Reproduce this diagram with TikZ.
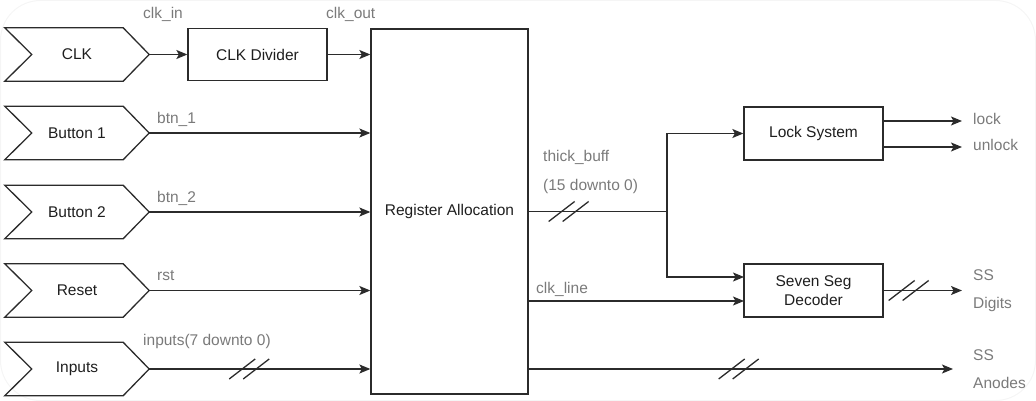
\documentclass[tikz,border=0pt]{standalone}
\usepackage{fontspec}
\setmainfont{Liberation Sans}
\usetikzlibrary{arrows.meta,calc}
\definecolor{linec}{HTML}{2B2B2B}
\definecolor{textc}{HTML}{1E1E1E}
\definecolor{lblc}{HTML}{7A7A7A}
\tikzset{
  base/.style={font=\fontsize{15.5}{18}\selectfont, text=textc},
  chev/.style={base, minimum width=144pt, minimum height=53pt, inner sep=0pt},
  blk/.style={base, draw=linec, line width=1.3pt, rectangle, inner sep=0pt},
  lbl/.style={font=\fontsize{15.5}{27.5}\selectfont, text=lblc, inner sep=0pt, text height=11pt, text depth=3.5pt},
  lbl2/.style={font=\fontsize{15.5}{27.5}\selectfont, text=lblc, inner sep=0pt, align=left},
  wire/.style={draw=linec, line width=1.3pt},
  arr/.style={wire, -{Stealth[length=11pt,width=9pt,inset=2.5pt]}},
  dsl/.pic={\draw[wire] (-20,10) -- (6,-10); \draw[wire] (-6,10) -- (20,-10);}
}
\begin{document}
\begin{tikzpicture}[x=1pt,y=-1pt]
\useasboundingbox (0,0) rectangle (1036,401);
\draw[black!4, line width=1pt, rounded corners=40pt] (0.5,0.5) rectangle (1035.5,400.5);

% input chevrons
\node[chev] (clk) at (77,54.5) {CLK};
\node[chev] (b1) at (77,133) {Button 1};
\node[chev] (b2) at (77,212) {Button 2};
\node[chev] (rst) at (77,290.5) {Reset};
\node[chev] (inp) at (77,369) {Inputs};
\foreach \n in {clk,b1,b2,rst,inp}{
  \draw[wire, line join=miter] (\n.north west) -- ([xshift=-26pt]\n.north east) -- (\n.east)
    -- ([xshift=-26pt]\n.south east) -- (\n.south west) -- ([xshift=27pt]\n.west) -- cycle;
}

% blocks
\node[blk, minimum width=139pt, minimum height=52pt] (div) at (257.5,54.5) {CLK Divider};
\node[blk, minimum width=157pt, minimum height=365pt] (reg) at (449.5,211.5) {Register Allocation};
\node[blk, minimum width=139pt, minimum height=53pt] (lock) at (813.5,133.5) {Lock System};
\node[blk, minimum width=139pt, minimum height=53pt, align=center, font=\fontsize{15.5}{19}\selectfont] (ssd) at (813.5,290.5) {Seven Seg\\Decoder};

% left connectors
\draw[arr] (clk.east) -- (div.west);
\draw[arr] (div.east) -- (div.east -| reg.west);
\draw[arr] (b1.east) -- (b1.east -| reg.west);
\draw[arr] (b2.east) -- (b2.east -| reg.west);
\draw[arr] (rst.east) -- (rst.east -| reg.west);
\draw[arr] (inp.east) -- (inp.east -| reg.west);
\path (inp.east) ++(100,0) pic{dsl};

% left labels
\node[lbl, anchor=west] (lclkin) at (143,15) {clk\_in};
\node[lbl, anchor=west] (lclkout) at (326,15) {clk\_out};
\node[lbl, anchor=west] (lb1) at (157,120) {btn\_1};
\node[lbl, anchor=west] (lb2) at (157,199) {btn\_2};
\node[lbl, anchor=west] (lrst) at (157,277) {rst};
\node[lbl, anchor=west] (linp) at (143,342) {inputs(7 downto 0)};

% right connectors
\coordinate (j) at (667,211.5);
\coordinate (ssdA) at (744,277);
\coordinate (ssdB) at (744,301);
\draw[wire] (reg.east) -- (j);
\path (reg.east) ++(40,0) pic{dsl};
\draw[arr] (j) |- (lock.west);
\draw[arr] (j) |- (ssdA);
\draw[arr] (ssdB -| reg.east) -- (ssdB);

\coordinate (lk1) at (962,121);
\coordinate (lk2) at (962,147);
\draw[arr] (lk1 -| lock.east) -- (lk1);
\draw[arr] (lk2 -| lock.east) -- (lk2);
\coordinate (dg) at (962,290.5);
\draw[arr] (ssd.east) -- (dg);
\path (ssd.east) ++(25,0) pic{dsl};
\coordinate (an) at (953,369);
\draw[arr] (an -| reg.east) -- (an);
\path (an -| reg.east) ++(210,0) pic{dsl};

% right labels
\node[lbl, anchor=west] (ltb) at (543,158) {thick\_buff};
\node[lbl, anchor=west] (ltb2) at (543,187) {(15 downto 0)};
\node[lbl, anchor=west] (lcl) at (536,290) {clk\_line};
\node[lbl, anchor=west] (llock) at (973,121) {lock};
\node[lbl, anchor=west] (lunlock) at (973,147) {unlock};
\node[lbl2, anchor=west] (ldig) at (973,290.5) {SS\\Digits};
\node[lbl2, anchor=west] (lan) at (973,369) {SS\\Anodes};
\end{tikzpicture}
\end{document}
